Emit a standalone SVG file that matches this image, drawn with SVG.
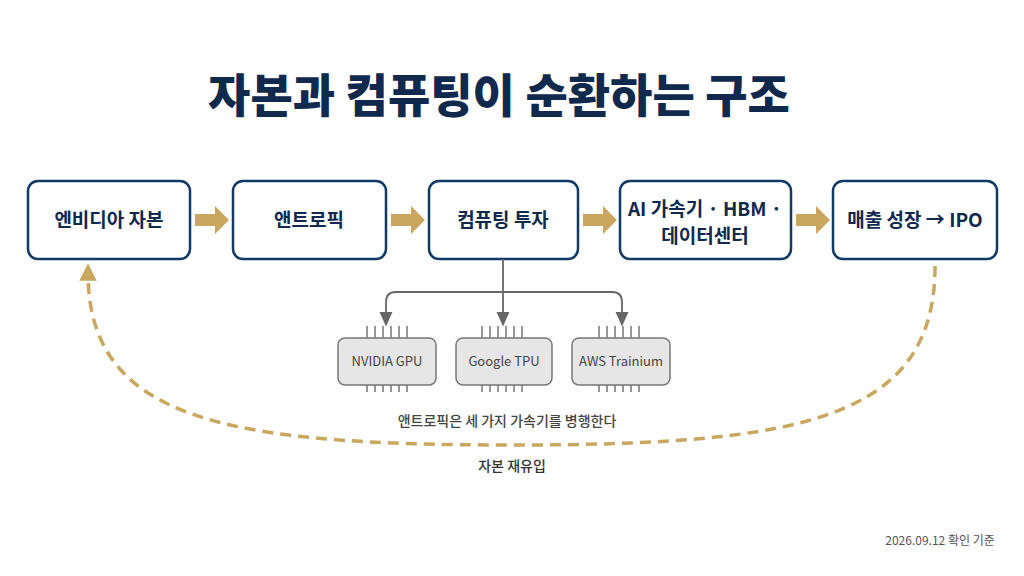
<svg xmlns="http://www.w3.org/2000/svg" width="1024" height="576" viewBox="0 0 1024 576">
<style>
text{font-family:"Noto Sans CJK KR","Noto Sans",sans-serif;text-anchor:middle}
.box{fill:#fff;stroke:#123a66;stroke-width:2.5}
.bt{font-size:19px;font-weight:700;fill:#10294d}
.chip{fill:#e6e6e6;stroke:#777;stroke-width:1.5}
.ct{font-size:13px;fill:#444}
.pin{stroke:#777;stroke-width:1.5}
.blk{fill:#c9a75e}
</style>
<defs>
<marker id="ah" viewBox="0 0 10 10" refX="5" refY="5" markerWidth="9" markerHeight="9" orient="auto"><path d="M0,1 L9,5 L0,9z" fill="#666"/></marker>
<marker id="ga" viewBox="0 0 10 10" refX="5" refY="5" markerWidth="5" markerHeight="5" orient="auto"><path d="M0,0 L10,5 L0,10z" fill="#c9a75e"/></marker>
</defs>
<rect width="1024" height="576" fill="#fff"/>
<text x="499" y="112" style="font-size:46px;font-weight:900;fill:#10294d">자본과 컴퓨팅이 순환하는 구조</text>
<g id="n1"><rect class="box" x="28" y="181" width="162" height="78" rx="10"/><text class="bt" x="109" y="227">엔비디아 자본</text></g>
<g id="n2"><rect class="box" x="233" y="181" width="153" height="78" rx="10"/><text class="bt" x="309" y="227">앤트로픽</text></g>
<g id="n3"><rect class="box" x="429" y="181" width="149" height="78" rx="10"/><text class="bt" x="503" y="227">컴퓨팅 투자</text></g>
<g id="n4"><rect class="box" x="620" y="181" width="171" height="78" rx="10"/><text class="bt" x="705" y="216">AI 가속기 · HBM ·</text><text class="bt" x="705" y="243">데이터센터</text></g>
<g id="n5"><rect class="box" x="833" y="181" width="164" height="78" rx="10"/><text class="bt" x="915" y="227">매출 성장 → IPO</text></g>
<g id="connectors">
<path class="blk" d="M195,214 h20 v-8 l14,14 l-14,14 v-8 h-20z"/>
<path class="blk" d="M391,214 h20 v-8 l14,14 l-14,14 v-8 h-20z"/>
<path class="blk" d="M583,214 h20 v-8 l14,14 l-14,14 v-8 h-20z"/>
<path class="blk" d="M796,214 h20 v-8 l14,14 l-14,14 v-8 h-20z"/>
<g fill="none" stroke="#666" stroke-width="1.8">
<path d="M503,259 V320" marker-end="url(#ah)"/>
<path d="M503,292 H396 q-10,0 -10,10 V320" marker-end="url(#ah)"/>
<path d="M503,292 H612 q10,0 10,10 V320" marker-end="url(#ah)"/>
</g>
<path d="M935,266 C935,420 800,445 512,445 C224,445 88,420 88,272" fill="none" stroke="#c9a75e" stroke-width="3.5" stroke-dasharray="11,7" marker-end="url(#ga)"/>
</g>
<g id="chip1"><path class="pin" d="M367,326v12M375,326v12M383,326v12M391,326v12M399,326v12M407,326v12M367,385v7M375,385v7M383,385v7M391,385v7M399,385v7M407,385v7"/><rect class="chip" x="338" y="338" width="98" height="47" rx="7"/><text class="ct" x="387" y="366">NVIDIA GPU</text></g>
<g id="chip2"><path class="pin" d="M482,326v12M490,326v12M498,326v12M506,326v12M514,326v12M522,326v12M482,385v7M490,385v7M498,385v7M506,385v7M514,385v7M522,385v7"/><rect class="chip" x="456" y="338" width="96" height="47" rx="7"/><text class="ct" x="504" y="366">Google TPU</text></g>
<g id="chip3"><path class="pin" d="M599,326v12M607,326v12M615,326v12M623,326v12M631,326v12M639,326v12M599,385v7M607,385v7M615,385v7M623,385v7M631,385v7M639,385v7"/><rect class="chip" x="572" y="338" width="98" height="47" rx="7"/><text class="ct" x="621" y="366">AWS Trainium</text></g>
<text x="507" y="426" style="font-size:14px;font-weight:500;fill:#444">앤트로픽은 세 가지 가속기를 병행한다</text>
<text x="512" y="471" style="font-size:14px;font-weight:500;fill:#333">자본 재유입</text>
<text x="940" y="545" style="font-size:12px;fill:#555">2026.09.12 확인 기준</text>
</svg>
